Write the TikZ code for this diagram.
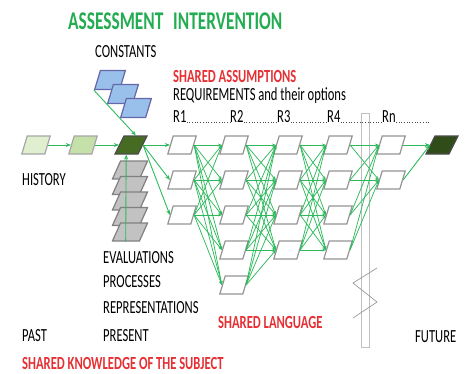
\documentclass[tikz,border=0pt]{standalone}
\usepackage{fontspec}
\setmainfont{Carlito}[FakeStretch=0.68]
\usepackage{xcolor}
\usepackage{tikz}
\usetikzlibrary{shapes.geometric, arrows.meta, positioning, calc}

\definecolor{linkgreen}{RGB}{46,186,92}
\definecolor{titlegreen}{RGB}{36,172,82}
\definecolor{sharedred}{RGB}{230,48,52}
\definecolor{pastgreen}{RGB}{224,239,208}
\definecolor{histgreen}{RGB}{198,224,170}
\definecolor{nowgreen}{RGB}{70,108,36}
\definecolor{endgreen}{RGB}{48,76,24}
\definecolor{constblue}{RGB}{152,192,234}
\definecolor{evalgrey}{RGB}{194,194,194}

\begin{document}
\begin{tikzpicture}[
    x=1pt, y=-1pt,
    opt/.style={
      rectangle, xslant=0.3, transform shape,
      minimum width=23pt, minimum height=18pt, inner sep=0pt,
      draw=black!42, line width=1.2pt, fill=white
    },
    hist/.style={opt, draw=black!35, fill=#1},
    now/.style={opt, draw=black!70, fill=#1, xslant=0.2},
    const/.style={opt, draw=black!55!blue!60, fill=constblue, minimum width=25pt, minimum height=19pt},
    eval/.style={opt, draw=black!50, fill=evalgrey, xslant=0.15, minimum width=27pt, minimum height=18pt},
    lbl/.style={anchor=base west, inner sep=0pt, font=\fontsize{18.5}{21}\selectfont},
    shared/.style={lbl, text=sharedred, font=\bfseries\fontsize{18.5}{21}\selectfont},
    title/.style={lbl, text=titlegreen, font=\bfseries\fontsize{25.5}{28}\selectfont},
    arr/.style={-{Stealth[length=5pt, width=4pt]}, linkgreen, line width=0.9pt},
    link/.style={-{Stealth[length=4pt, width=3pt]}, linkgreen, line width=0.75pt}
  ]
    \useasboundingbox (0,0) rectangle (471,373);

    % headings and labels
    \node[title] (assess) at (68,29) {ASSESSMENT};
    \node[title] (interv) at (173,29) {INTERVENTION};
    \node[lbl] (constants) at (95,57) {CONSTANTS};
    \node[shared] (assume) at (173,82) {SHARED ASSUMPTIONS};
    \node[lbl] (require) at (173,100) {REQUIREMENTS and their options};
    \node[lbl] (history) at (22,185) {HISTORY};
    \node[lbl] (evals) at (103,263) {EVALUATIONS};
    \node[lbl] (procs) at (103,287) {PROCESSES};
    \node[lbl] (reprs) at (103,313) {REPRESENTATIONS};
    \node[shared] (language) at (218,328) {SHARED LANGUAGE};
    \node[lbl] (past) at (22,341) {PAST};
    \node[lbl] (present) at (103,341) {PRESENT};
    \node[lbl] (future) at (415,342) {FUTURE};
    \node[shared] (knowledge) at (22,369) {SHARED KNOWLEDGE OF THE SUBJECT};

    % requirement headers with dotted rule
    \node[lbl] (q1) at (173,122) {R1};
    \node[lbl] (q2) at (230,122) {R2};
    \node[lbl] (q3) at (277,122) {R3};
    \node[lbl] (q4) at (327,122) {R4};
    \node[lbl] (qn) at (382,122) {Rn};
    \coordinate (qend) at (430,122);
    \draw[dotted, line width=0.7pt, black!70] (q1.base east) -- (q2.base west)
      (q2.base east) -- (q3.base west) (q3.base east) -- (q4.base west)
      (q4.base east) -- (qn.base west) (qn.base east) -- (qend);

    % break in the time line
    \draw[black!25, line width=0.8pt] (361,113) rectangle (369,347);
    \draw[black!40, line width=0.7pt] (377,268) -- (353,283) -- (377,302) -- (353,318);

    % past and present
    \node[hist=pastgreen] (h1) at (36,145) {};
    \node[hist=histgreen] (h2) at (83,145) {};
    \node[now=nowgreen] (now) at (131,145) {};
    \node[now=endgreen] (fut) at (442,145) {};

    \node[const] (k1) at (110,80) {};
    \node[const] (k2) at (123,94) {};
    \node[const] (k3) at (136,108) {};

    \foreach \i in {1,...,5}
      \node[eval] (e\i) at (130,154.5+15.5*\i) {};

    % requirement options
    \foreach \col/\x/\n in {1/182/3, 2/234/5, 3/288/4, 4/338/4, 5/391/2}
      \foreach \row in {1,...,\n}
        \node[opt] (r\col-\row) at (\x,110+35*\row) {};

    \draw[arr] (h1) -- (h2);
    \draw[arr] (h2) -- (now);
    \draw[arr] (k1.south west) -- (now.north);
    \draw[arr] (e5.south) -- (now.south);
    \foreach \j in {1,2,3}
      \draw[arr] (now.east) -- (r1-\j.west);

    \foreach \a/\b/\na/\nb in {1/2/3/5, 2/3/5/4, 3/4/4/4, 4/5/4/2}
      \foreach \i in {1,...,\na}
        \foreach \j in {1,...,\nb}
          \draw[link] (r\a-\i.east) -- (r\b-\j.west);

    \draw[arr] (r5-1.east) -- (fut.west);
    \draw[arr] (r5-2.east) -- (fut.west);
\end{tikzpicture}
\end{document}
